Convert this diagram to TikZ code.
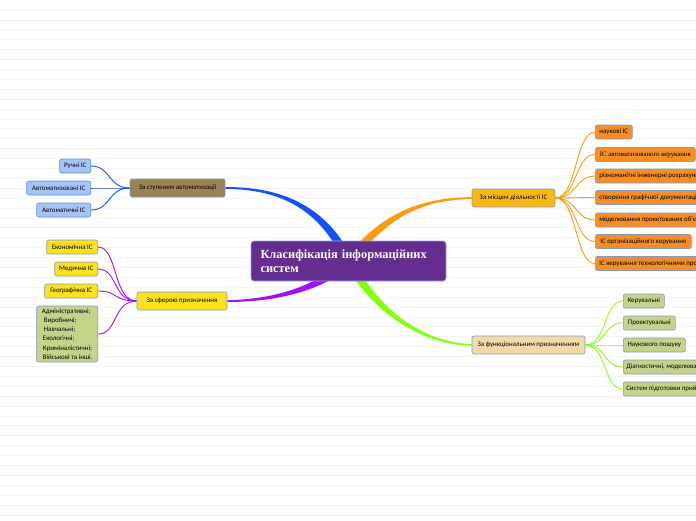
\documentclass[tikz,border=0pt]{standalone}
\usepackage{fontspec}
\setmainfont{Carlito}
\newfontfamily\titlefont{Liberation Serif}
\newfontfamily\serifsmall{Liberation Serif}
\usetikzlibrary{calc,backgrounds}
\definecolor{bgl}{HTML}{F3F3F3}
\definecolor{cenfill}{HTML}{662D91}
\definecolor{cenbord}{HTML}{8FA8E6}
\definecolor{nbord}{HTML}{7E9CC4}
\definecolor{brownf}{HTML}{9C8154}
\definecolor{yellowf}{HTML}{FBE21B}
\definecolor{amberf}{HTML}{FBB716}
\definecolor{wheatf}{HTML}{F2D9A7}
\definecolor{bleaf}{HTML}{A6C3F6}
\definecolor{bleafb}{HTML}{5E8FE8}
\definecolor{oleaf}{HTML}{F68E24}
\definecolor{gleaf}{HTML}{C4D38A}
\definecolor{cblue}{HTML}{1550FF}
\definecolor{corange}{HTML}{FF9A0A}
\definecolor{cpurple}{HTML}{A010F5}
\definecolor{cgreen}{HTML}{84FF10}
\tikzset{
  x=1pt, y=-1pt,
  base/.style={rounded corners=2pt, line width=0.6pt, draw=nbord, text=black,
    font=\fontsize{6.9}{8}\selectfont, inner xsep=3pt, inner ysep=0pt, minimum height=14pt},
  mainbox/.style={base, minimum height=18pt},
  bluebox/.style={base, fill=bleaf, draw=bleafb},
  yelbox/.style={base, fill=yellowf},
  orbox/.style={base, fill=oleaf, inner xsep=4pt},
  grbox/.style={base, fill=gleaf},
  bgline/.style={draw=bgl, line width=0.8pt},
  thinblue/.style={draw=cblue, line width=0.9pt},
  thinor/.style={draw=corange, line width=0.9pt},
  thinpu/.style={draw=cpurple, line width=0.9pt},
  thingr/.style={draw=cgreen, line width=0.9pt},
}
\begin{document}
\begin{tikzpicture}
\useasboundingbox (0,0) rectangle (696,520);
\begin{scope}
\clip (0,0) rectangle (696,520);
% central node
\node[rounded corners=3pt, fill=cenfill, draw=cenbord, line width=0.7pt, minimum width=195pt, minimum height=40pt,
  text width=176pt, align=left, text=white, font=\titlefont\bfseries\fontsize{12.4}{14.5}\selectfont, inner sep=0pt]
  (cen) at (348.5,261) {Класифікація інформаційних\\систем};
% main nodes
\node[mainbox, fill=brownf, minimum width=95pt] (auto) at (177.5,188) {За ступенем автоматизації};
\node[mainbox, fill=yellowf, minimum width=90pt] (sfera) at (182,301) {За сферою призначення};
\node[mainbox, fill=amberf, minimum width=83pt] (misc) at (513.5,198) {За місцем діяльності ІС};
\node[mainbox, fill=wheatf, minimum width=113pt] (func) at (528.5,345) {За функціональним призначенням};
% blue leaves
\node[bluebox, anchor=east, minimum width=31pt] (l1) at (91,166) {Ручні ІС};
\node[bluebox, anchor=east, minimum width=64pt] (l2) at (91,188) {Автоматизовані ІС};
\node[bluebox, anchor=east, minimum width=54pt] (l3) at (91,210) {Автоматичні ІС};
% yellow leaves
\node[yelbox, anchor=east, minimum width=51pt] (y1) at (98,247) {Економічна ІС};
\node[yelbox, anchor=east, minimum width=43pt] (y2) at (98,269) {Медична ІС};
\node[yelbox, anchor=east, minimum width=53pt] (y3) at (98,291) {Географічна ІС};
\node[grbox, anchor=east, minimum width=61pt, minimum height=56pt, align=left, inner xsep=3pt,
  font=\fontsize{6.9}{9.2}\selectfont] (y4) at (98,334)
  {Адміністративні;\\\hspace*{2pt}Виробничі;\\\hspace*{2pt}Навчальні;\\\hspace*{1pt}Екологічні;\\\hspace*{1pt}Криміналістичні;\\\hspace*{1pt}Військові та інші.};
% orange leaves
\node[orbox, anchor=west, minimum width=37pt] (o1) at (595,132) {наукові ІС};
\node[orbox, anchor=west, minimum width=100pt, font=\serifsmall\fontsize{6.8}{8}\selectfont] (o2) at (595,154.5) {ІС автоматизованого керування};
\node[orbox, anchor=west] (o3) at (595,176) {різноманітні інженерні розрахунки};
\node[orbox, anchor=west] (o4) at (595,197.5) {створення графічної документації};
\node[orbox, anchor=west] (o5) at (595,220) {моделювання проектованих об'єктів};
\node[orbox, anchor=west, minimum width=96pt] (o6) at (595,241.5) {ІС організаційного керування};
\node[orbox, anchor=west] (o7) at (595,263.5) {ІС керування технологічними процесами};
% green leaves
\node[grbox, anchor=west, minimum width=41pt] (g1) at (623,301) {Керувальні};
\node[grbox, anchor=west, minimum width=52pt] (g2) at (623,323) {Проектувальні};
\node[grbox, anchor=west, minimum width=62pt] (g3) at (623,345) {Наукового пошуку};
\node[grbox, anchor=west] (g4) at (623,367) {Діагностичні, моделювальні};
\node[grbox, anchor=west] (g5) at (623,389) {Систем підготовки прийняття рішень};

\begin{pgfonlayer}{background}
\foreach \yy in {10,19.9,...,520} \draw[bgline] (0,\yy) -- (696,\yy);
% tapered main branches
\fill[cblue] ($(cen.center)+(4.1,-1.9)$) .. controls ($(320,200)+(3.3,-1.5)$) and ($(270,188)+(0,-1.3)$) .. ($(auto.east)+(0,-0.9)$)
  -- ($(auto.east)+(0,0.9)$) .. controls ($(270,188)+(0,1.3)$) and ($(320,200)+(-3.3,1.5)$) .. ($(cen.center)+(-4.1,1.9)$) -- cycle;
\fill[corange] ($(cen.center)+(3.5,2.8)$) .. controls ($(385,215)+(2.8,2.2)$) and ($(420,199)+(0,1.3)$) .. ($(misc.west)+(0,0.9)$)
  -- ($(misc.west)+(0,-0.9)$) .. controls ($(420,199)+(0,-1.3)$) and ($(385,215)+(-2.8,-2.2)$) .. ($(cen.center)+(-3.5,-2.8)$) -- cycle;
\fill[cpurple] ($(cen.center)+(3.2,3.2)$) .. controls ($(320,290)+(2.6,2.6)$) and ($(270,301)+(0,1.3)$) .. ($(sfera.east)+(0,0.9)$)
  -- ($(sfera.east)+(0,-0.9)$) .. controls ($(270,301)+(0,-1.3)$) and ($(320,290)+(-2.6,-2.6)$) .. ($(cen.center)+(-3.2,-3.2)$) -- cycle;
\fill[cgreen] ($(cen.center)+(4,-2.2)$) .. controls ($(375,310)+(3.2,-1.8)$) and ($(420,343)+(0,-1.3)$) .. ($(func.west)+(0,-0.9)$)
  -- ($(func.west)+(0,0.9)$) .. controls ($(420,343)+(0,1.3)$) and ($(375,310)+(-3.2,1.8)$) .. ($(cen.center)+(-4,2.2)$) -- cycle;
% leaf connectors
\foreach \n in {l1,l2,l3} \draw[thinblue] (auto.west) .. controls +(-22,0) and +(20,0) .. (\n.east);
\foreach \n in {y1,y2,y3,y4} \draw[thinpu] (sfera.west) .. controls +(-24,0) and +(20,0) .. (\n.east);
\foreach \n in {o1,o2,o3,o4,o5,o6,o7} \draw[thinor] (misc.east) .. controls +(22,0) and +(-20,0) .. (\n.west);
\foreach \n in {g1,g2,g3,g4,g5} \draw[thingr] (func.east) .. controls +(22,0) and +(-20,0) .. (\n.west);
\end{pgfonlayer}
\end{scope}
\end{tikzpicture}
\end{document}
